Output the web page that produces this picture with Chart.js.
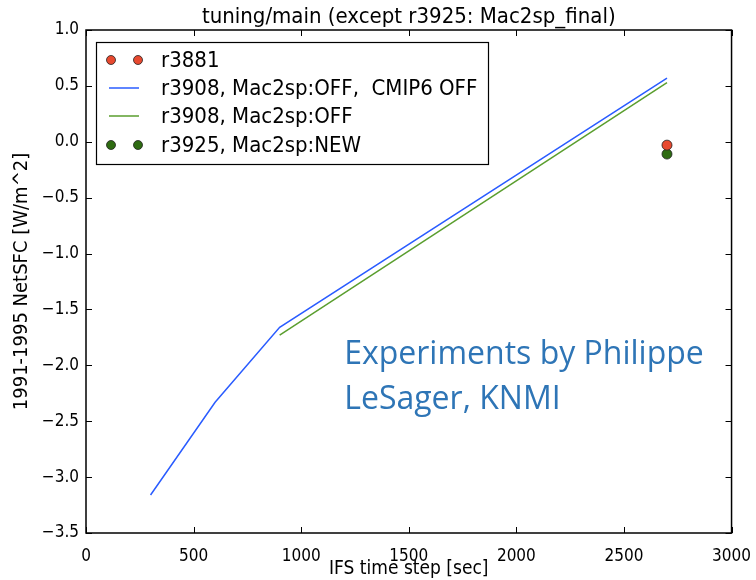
<!DOCTYPE html>
<html>
<head>
<meta charset="utf-8">
<script src="https://cdn.jsdelivr.net/npm/chart.js@4.4.0/dist/chart.umd.min.js"></script>
<style>
  html, body { margin: 0; padding: 0; background: #fff; }
  #wrap { width: 756px; height: 580px; }
</style>
</head>
<body>
<div id="wrap"><canvas id="tuningChart" width="756" height="580"></canvas></div>
<script>
// values
const blueX = [300, 600, 900, 2700];
const blueY = [-3.16, -2.33, -1.66, 0.57];
const greenX = [900, 2700];
const greenY = [-1.73, 0.53];
const r3881X = [2700];
const r3881Y = [-0.03];
const r3925X = [2700];
const r3925Y = [-0.11];

const xTicks = [0, 500, 1000, 1500, 2000, 2500, 3000];
const yTicks = [1.0, 0.5, 0.0, -0.5, -1.0, -1.5, -2.0, -2.5, -3.0, -3.5];

const legendLabels = ['r3881', 'r3908, Mac2sp:OFF,  CMIP6 OFF', 'r3908, Mac2sp:OFF', 'r3925, Mac2sp:NEW'];
const titleText = 'tuning/main (except r3925: Mac2sp_final)';
const noteLines = ['Experiments by Philippe', 'LeSager, KNMI'];

const FONT = '"DejaVu Sans Condensed", "DejaVu Sans", sans-serif';
const RED = '#e8492f';
const DKGREEN = '#2e6b12';
const BLUE = '#2a5cff';
const GREEN = '#5a9e2e';

function pts(xs, ys) {
    return xs.map((x, i) => ({ x: x, y: ys[i] }));
}

function fmtY(v) {
    return v.toFixed(1).replace('-', '\u2212');
}

// frame, inward ticks, title, annotation and legend (matplotlib look)
const mplDecor = {
    id: 'mplDecor',
    afterDatasetsDraw(chart) {
        const ctx = chart.ctx;
        const a = chart.chartArea;
        const xs = chart.scales.x, ys = chart.scales.y;
        ctx.save();

        // note text
        ctx.fillStyle = '#2e75b6';
        ctx.font = '32px "Open Sans", sans-serif';
        ctx.textAlign = 'left';
        ctx.textBaseline = 'alphabetic';
        const nx = xs.getPixelForValue(1200);
        ctx.fillText(noteLines[0], nx, ys.getPixelForValue(-1.99));
        ctx.fillText(noteLines[1], nx, ys.getPixelForValue(-2.39));

        // ticks
        ctx.strokeStyle = '#000';
        ctx.lineWidth = 1;
        ctx.beginPath();
        xTicks.forEach(t => {
            const p = Math.round(xs.getPixelForValue(t)) + 0.5;
            ctx.moveTo(p, a.bottom); ctx.lineTo(p, a.bottom - 6);
            ctx.moveTo(p, a.top); ctx.lineTo(p, a.top + 6);
        });
        yTicks.forEach(t => {
            const p = Math.round(ys.getPixelForValue(t)) + 0.5;
            ctx.moveTo(a.left, p); ctx.lineTo(a.left + 6, p);
            ctx.moveTo(a.right, p); ctx.lineTo(a.right - 6, p);
        });
        ctx.stroke();

        // frame
        ctx.lineWidth = 1.5;
        ctx.strokeRect(a.left, a.top, a.right - a.left, a.bottom - a.top);

        // title
        ctx.fillStyle = '#000';
        ctx.font = '22px ' + FONT;
        ctx.textAlign = 'center';
        ctx.textBaseline = 'bottom';
        ctx.fillText(titleText, (a.left + a.right) / 2, a.top - 2);

        // legend box
        const lx = 96, ly = 42, lw = 392, lh = 122;
        ctx.fillStyle = '#fff';
        ctx.fillRect(lx, ly, lw, lh);
        ctx.lineWidth = 1.2;
        ctx.strokeStyle = '#000';
        ctx.strokeRect(lx + 0.5, ly + 0.5, lw, lh);
        const rowY = [60, 88, 116, 145];
        ctx.font = '22px ' + FONT;
        ctx.textAlign = 'left';
        ctx.textBaseline = 'middle';
        legendLabels.forEach((lab, i) => {
            const y = rowY[i];
            if (i === 0 || i === 3) {
                const c = i === 0 ? RED : DKGREEN;
                [111, 138].forEach(cx => {
                    ctx.beginPath();
                    ctx.arc(cx, y, 4.5, 0, Math.PI * 2);
                    ctx.fillStyle = c;
                    ctx.fill();
                    ctx.lineWidth = 0.8;
                    ctx.strokeStyle = '#222';
                    ctx.stroke();
                });
            } else {
                ctx.beginPath();
                ctx.moveTo(109, y); ctx.lineTo(139, y);
                ctx.lineWidth = 1.5;
                ctx.strokeStyle = i === 1 ? BLUE : GREEN;
                ctx.stroke();
            }
            ctx.fillStyle = '#000';
            ctx.fillText(lab, 161, y + 1);
        });
        ctx.restore();
    }
};

new Chart(document.getElementById('tuningChart'), {
    type: 'scatter',
    data: {
        datasets: [
            {
                label: legendLabels[0],
                data: pts(r3881X, r3881Y),
                backgroundColor: RED,
                borderColor: '#222',
                borderWidth: 0.8,
                pointRadius: 5
            },
            {
                label: legendLabels[1],
                data: pts(blueX, blueY),
                showLine: true,
                borderColor: BLUE,
                borderWidth: 1.5,
                pointRadius: 0,
                fill: false
            },
            {
                label: legendLabels[2],
                data: pts(greenX, greenY),
                showLine: true,
                borderColor: GREEN,
                borderWidth: 1.5,
                pointRadius: 0,
                fill: false
            },
            {
                label: legendLabels[3],
                data: pts(r3925X, r3925Y),
                backgroundColor: DKGREEN,
                borderColor: '#222',
                borderWidth: 0.8,
                pointRadius: 5
            }
        ]
    },
    options: {
        responsive: false,
        animation: false,
        layout: { padding: { top: 30, right: 20, bottom: 0, left: 0 } },
        plugins: {
            legend: { display: false },
            title: { display: false },
            tooltip: { enabled: false }
        },
        scales: {
            x: {
                type: 'linear',
                min: 0,
                max: 3000,
                afterBuildTicks: s => { s.ticks = xTicks.map(v => ({ value: v })); },
                afterFit: s => { s.height = 47; },
                grid: { display: false },
                border: { display: false },
                ticks: {
                    color: '#000',
                    font: { family: FONT, size: 17 },
                    padding: 5,
                    maxRotation: 0,
                    callback: v => String(v)
                },
                title: {
                    display: true,
                    text: 'IFS time step [sec]',
                    color: '#000',
                    font: { family: FONT, size: 19 },
                    padding: { top: 0, bottom: 0 }
                }
            },
            y: {
                type: 'linear',
                min: -3.5,
                max: 1.0,
                afterBuildTicks: s => { s.ticks = yTicks.map(v => ({ value: v })); },
                afterFit: s => { s.width = 86; },
                grid: { display: false, drawTicks: false, tickLength: 0 },
                border: { display: false },
                ticks: {
                    color: '#000',
                    font: { family: FONT, size: 17 },
                    padding: 7,
                    callback: v => fmtY(v)
                },
                title: {
                    display: true,
                    text: '1991-1995 NetSFC [W/m^2]',
                    color: '#000',
                    font: { family: FONT, size: 20 },
                    padding: { top: 10, bottom: 0 }
                }
            }
        }
    },
    plugins: [mplDecor]
});
</script>
</body>
</html>
